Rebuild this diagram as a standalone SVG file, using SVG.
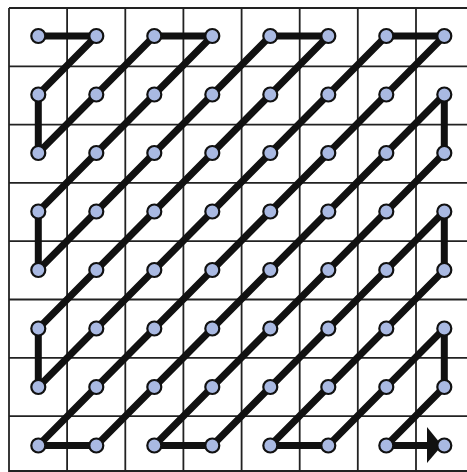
<svg xmlns="http://www.w3.org/2000/svg" width="467" height="472" viewBox="0 0 467 472">
<style>
.grid line{stroke:#222;stroke-width:1.8}
.path{fill:none;stroke:#111;stroke-width:7;stroke-linejoin:round;stroke-linecap:butt}
.n circle{fill:#a9b9e2;stroke:#111;stroke-width:2.2}
</style>
<rect width="467" height="472" fill="#ffffff"/>
<g class="grid">
<line x1="9" y1="8" x2="467" y2="8"/><line x1="9" y1="66.3" x2="467" y2="66.3"/><line x1="9" y1="124.6" x2="467" y2="124.6"/><line x1="9" y1="182.9" x2="467" y2="182.9"/><line x1="9" y1="241.2" x2="467" y2="241.2"/><line x1="9" y1="299.5" x2="467" y2="299.5"/><line x1="9" y1="357.8" x2="467" y2="357.8"/><line x1="9" y1="416.1" x2="467" y2="416.1"/><line x1="9" y1="471" x2="467" y2="471"/>
<line x1="9" y1="8" x2="9" y2="472"/><line x1="67.1" y1="8" x2="67.1" y2="472"/><line x1="125.3" y1="8" x2="125.3" y2="472"/><line x1="183.4" y1="8" x2="183.4" y2="472"/><line x1="241.6" y1="8" x2="241.6" y2="472"/><line x1="299.7" y1="8" x2="299.7" y2="472"/><line x1="357.8" y1="8" x2="357.8" y2="472"/><line x1="416" y1="8" x2="416" y2="472"/>
</g>
<g id="connectors">
<polyline class="path" points="38.3,36 96.3,36 38.3,94.5 38.3,153 154.3,36 212.3,36 38.3,211.5 38.3,270 270.3,36 328.3,36 38.3,328.5 38.3,387 386.3,36 444.3,36 38.3,445.5 96.3,445.5 444.3,94.5 444.3,153 154.3,445.5 212.3,445.5 444.3,211.5 444.3,270 270.3,445.5 328.3,445.5 444.3,328.5 444.3,387 386.3,445.5 428,445.5"/>
<polygon points="427,427 442,445.5 427,463" fill="#111"/>
</g>
<g id="nodes">
<g class="n" id="n00"><circle cx="38.3" cy="36" r="7"/></g>
<g class="n" id="n10"><circle cx="96.3" cy="36" r="7"/></g>
<g class="n" id="n20"><circle cx="154.3" cy="36" r="7"/></g>
<g class="n" id="n30"><circle cx="212.3" cy="36" r="7"/></g>
<g class="n" id="n40"><circle cx="270.3" cy="36" r="7"/></g>
<g class="n" id="n50"><circle cx="328.3" cy="36" r="7"/></g>
<g class="n" id="n60"><circle cx="386.3" cy="36" r="7"/></g>
<g class="n" id="n70"><circle cx="444.3" cy="36" r="7"/></g>
<g class="n" id="n01"><circle cx="38.3" cy="94.5" r="7"/></g>
<g class="n" id="n11"><circle cx="96.3" cy="94.5" r="7"/></g>
<g class="n" id="n21"><circle cx="154.3" cy="94.5" r="7"/></g>
<g class="n" id="n31"><circle cx="212.3" cy="94.5" r="7"/></g>
<g class="n" id="n41"><circle cx="270.3" cy="94.5" r="7"/></g>
<g class="n" id="n51"><circle cx="328.3" cy="94.5" r="7"/></g>
<g class="n" id="n61"><circle cx="386.3" cy="94.5" r="7"/></g>
<g class="n" id="n71"><circle cx="444.3" cy="94.5" r="7"/></g>
<g class="n" id="n02"><circle cx="38.3" cy="153" r="7"/></g>
<g class="n" id="n12"><circle cx="96.3" cy="153" r="7"/></g>
<g class="n" id="n22"><circle cx="154.3" cy="153" r="7"/></g>
<g class="n" id="n32"><circle cx="212.3" cy="153" r="7"/></g>
<g class="n" id="n42"><circle cx="270.3" cy="153" r="7"/></g>
<g class="n" id="n52"><circle cx="328.3" cy="153" r="7"/></g>
<g class="n" id="n62"><circle cx="386.3" cy="153" r="7"/></g>
<g class="n" id="n72"><circle cx="444.3" cy="153" r="7"/></g>
<g class="n" id="n03"><circle cx="38.3" cy="211.5" r="7"/></g>
<g class="n" id="n13"><circle cx="96.3" cy="211.5" r="7"/></g>
<g class="n" id="n23"><circle cx="154.3" cy="211.5" r="7"/></g>
<g class="n" id="n33"><circle cx="212.3" cy="211.5" r="7"/></g>
<g class="n" id="n43"><circle cx="270.3" cy="211.5" r="7"/></g>
<g class="n" id="n53"><circle cx="328.3" cy="211.5" r="7"/></g>
<g class="n" id="n63"><circle cx="386.3" cy="211.5" r="7"/></g>
<g class="n" id="n73"><circle cx="444.3" cy="211.5" r="7"/></g>
<g class="n" id="n04"><circle cx="38.3" cy="270" r="7"/></g>
<g class="n" id="n14"><circle cx="96.3" cy="270" r="7"/></g>
<g class="n" id="n24"><circle cx="154.3" cy="270" r="7"/></g>
<g class="n" id="n34"><circle cx="212.3" cy="270" r="7"/></g>
<g class="n" id="n44"><circle cx="270.3" cy="270" r="7"/></g>
<g class="n" id="n54"><circle cx="328.3" cy="270" r="7"/></g>
<g class="n" id="n64"><circle cx="386.3" cy="270" r="7"/></g>
<g class="n" id="n74"><circle cx="444.3" cy="270" r="7"/></g>
<g class="n" id="n05"><circle cx="38.3" cy="328.5" r="7"/></g>
<g class="n" id="n15"><circle cx="96.3" cy="328.5" r="7"/></g>
<g class="n" id="n25"><circle cx="154.3" cy="328.5" r="7"/></g>
<g class="n" id="n35"><circle cx="212.3" cy="328.5" r="7"/></g>
<g class="n" id="n45"><circle cx="270.3" cy="328.5" r="7"/></g>
<g class="n" id="n55"><circle cx="328.3" cy="328.5" r="7"/></g>
<g class="n" id="n65"><circle cx="386.3" cy="328.5" r="7"/></g>
<g class="n" id="n75"><circle cx="444.3" cy="328.5" r="7"/></g>
<g class="n" id="n06"><circle cx="38.3" cy="387" r="7"/></g>
<g class="n" id="n16"><circle cx="96.3" cy="387" r="7"/></g>
<g class="n" id="n26"><circle cx="154.3" cy="387" r="7"/></g>
<g class="n" id="n36"><circle cx="212.3" cy="387" r="7"/></g>
<g class="n" id="n46"><circle cx="270.3" cy="387" r="7"/></g>
<g class="n" id="n56"><circle cx="328.3" cy="387" r="7"/></g>
<g class="n" id="n66"><circle cx="386.3" cy="387" r="7"/></g>
<g class="n" id="n76"><circle cx="444.3" cy="387" r="7"/></g>
<g class="n" id="n07"><circle cx="38.3" cy="445.5" r="7"/></g>
<g class="n" id="n17"><circle cx="96.3" cy="445.5" r="7"/></g>
<g class="n" id="n27"><circle cx="154.3" cy="445.5" r="7"/></g>
<g class="n" id="n37"><circle cx="212.3" cy="445.5" r="7"/></g>
<g class="n" id="n47"><circle cx="270.3" cy="445.5" r="7"/></g>
<g class="n" id="n57"><circle cx="328.3" cy="445.5" r="7"/></g>
<g class="n" id="n67"><circle cx="386.3" cy="445.5" r="7"/></g>
<g class="n" id="n77"><circle cx="444.3" cy="445.5" r="7"/></g>
</g>
</svg>
